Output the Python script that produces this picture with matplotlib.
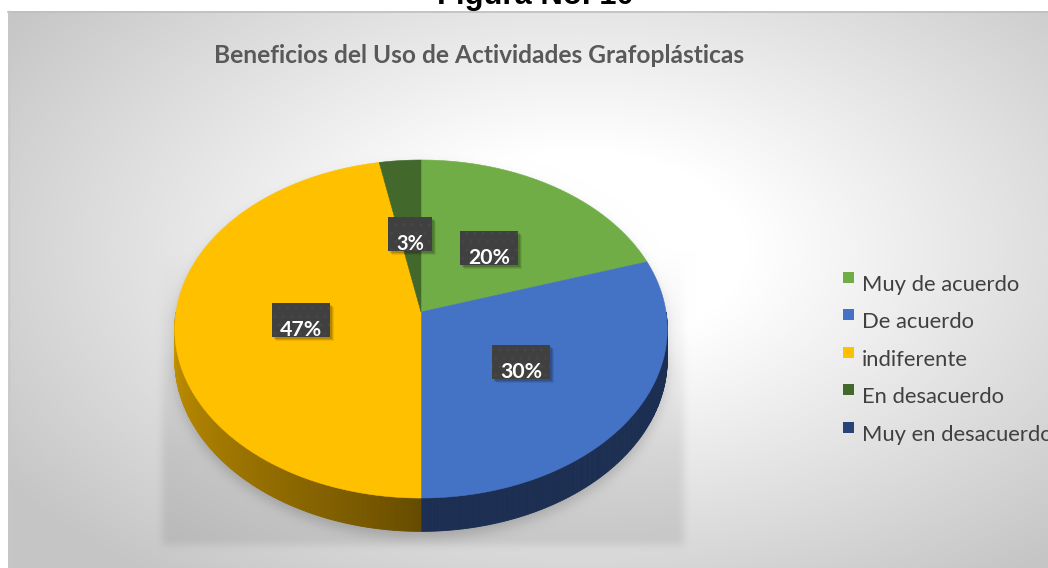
import numpy as np
import matplotlib
matplotlib.use("Agg")
import matplotlib.pyplot as plt
from matplotlib.patches import Rectangle, Polygon
from matplotlib.path import Path

# ---------------- data ----------------
categories = ["Muy de acuerdo", "De acuerdo", "indiferente", "En desacuerdo", "Muy en desacuerdo"]
values = [20, 30, 47, 3, 0]
pct_labels = ["20%", "30%", "47%", "3%", ""]
top_colors = ["#70ad47", "#4472c4", "#ffc000", "#43682b", "#264478"]
side_colors_light = ["#4a7a2c", "#1c2f52", "#c89400", "#2c451c", "#172a4a"]
side_colors_dark = ["#35571f", "#1a2b4c", "#644a00", "#1f3214", "#14233f"]
title = "Beneficios del Uso de Actividades Grafoplásticas"
caption = "Figura No. 10"

W, H = 1048, 568
fig = plt.figure(figsize=(W / 100, H / 100), dpi=100)
ax = fig.add_axes([0, 0, 1, 1])
ax.set_xlim(0, W)
ax.set_ylim(H, 0)
ax.axis("off")

# ---------------- pie geometry (perspective) ----------------
CX, CY = 421.0, 312.0
R, RY, K = 245.0, 167.3, 0.1006
DEPTH = 30.0


def proj(theta_deg, f=1.0, depth=0.0):
    t = np.radians(theta_deg)
    u = f * np.sin(t)
    v = -f * np.cos(t)
    den = 1 - K * v
    x = CX + R * u / den
    y = CY + RY * v / den + depth / den
    return x, y


# ---------------- background ----------------
yy, xx = np.mgrid[0:H, 0:W] + 0.5
d = np.sqrt(((xx - 580) / 560) ** 2 + ((yy - 250) / 330) ** 2)
bg = 255 - 58 * np.clip((d - 0.3) / 0.95, 0, 1)
bg = bg / 255.0


def blur(a, s):
    r = int(3 * s)
    k = np.exp(-0.5 * (np.arange(-r, r + 1) / s) ** 2)
    k /= k.sum()
    a = np.apply_along_axis(lambda m: np.convolve(m, k, mode="same"), 0, a)
    a = np.apply_along_axis(lambda m: np.convolve(m, k, mode="same"), 1, a)
    return a


pts = np.column_stack([xx.ravel(), yy.ravel()])
# broad soft shadow region behind the pie
rect = ((xx > 162) & (xx < 684) & (yy > 250) & (yy < 545)).astype(float)
rect = blur(rect, 4)
ramp = np.clip((yy - 250) / 200.0, 0, 1)
shadow = rect * ramp * 0.09
# contact shadow following the pie outline
th = np.linspace(0, 360, 361)
tx, ty = proj(th)
bx, by = proj(th, depth=DEPTH)
outline_x = np.concatenate([tx[th <= 90], bx[(th >= 90) & (th <= 270)], tx[th >= 270]])
outline_y = np.concatenate([ty[th <= 90], by[(th >= 90) & (th <= 270)], ty[th >= 270]])
sil = Path(np.column_stack([outline_x, outline_y + 6])).contains_points(pts).reshape(H, W).astype(float)
sil = blur(sil, 6) * 0.16
shadow = np.clip(shadow + sil, 0, 0.3)
bg = bg * (1 - shadow)
bg[(xx < 8) | (yy < 11)] = 1.0
img = np.dstack([bg, bg, bg])
ax.imshow(img, extent=(0, W, H, 0), interpolation="bilinear", zorder=0)
ax.plot([8, W], [11.5, 11.5], color="#bfbfbf", lw=1.2, zorder=1)
ax.plot([8.5, 8.5], [11, H], color="#c8c8c8", lw=1.0, zorder=1)

# ---------------- slices ----------------
total = float(sum(values))
starts = np.concatenate([[0], np.cumsum(values)[:-1]]) / total * 360
ends = np.cumsum(values) / total * 360


def mix(c1, c2, t):
    a = np.array(matplotlib.colors.to_rgb(c1))
    b = np.array(matplotlib.colors.to_rgb(c2))
    return tuple(a * (1 - t) + b * t)


# sides (front half, theta in [90, 270])
for i in range(len(values)):
    a0, a1 = max(starts[i], 90), min(ends[i], 270)
    if a1 <= a0:
        continue
    n = int((a1 - a0) * 2) + 2
    ts = np.linspace(a0, a1, n)
    for j in range(n - 1):
        t0, t1 = ts[j], ts[j + 1]
        x0, y0 = proj(t0)
        x1, y1 = proj(t1)
        x2, y2 = proj(t1, depth=DEPTH)
        x3, y3 = proj(t0, depth=DEPTH)
        tm = 0.5 * (t0 + t1)
        if i == 2:
            g = np.clip((tm - 180) / 90.0, 0, 1) ** 0.8
            col = mix(side_colors_dark[i], side_colors_light[i], g)
        else:
            col = side_colors_light[i]
        ax.add_patch(Polygon([[x0, y0], [x1, y1], [x2, y2], [x3, y3]], closed=True,
                             facecolor=col, edgecolor=col, lw=0.6, zorder=2))

# top faces
for i in range(len(values)):
    if values[i] <= 0:
        continue
    ts = np.linspace(starts[i], ends[i], max(int((ends[i] - starts[i]) * 2), 4))
    x, y = proj(ts)
    xs = np.concatenate([[CX], x])
    ys = np.concatenate([[CY], y])
    ax.fill(xs, ys, facecolor=top_colors[i], edgecolor=top_colors[i], lw=0.4, zorder=3)

# ---------------- text helpers ----------------
renderer = fig.canvas.get_renderer()


def fit(t, target):
    w = t.get_window_extent(renderer).width
    t.set_fontsize(t.get_fontsize() * target / w)


# data labels
for i in range(len(values)):
    if values[i] <= 0:
        continue
    mid = 0.5 * (starts[i] + ends[i])
    bxc, byc = proj(mid, f=0.49)
    txt = ax.text(bxc, byc + 16, pct_labels[i], color="white", fontsize=15,
                  fontweight="bold", family="Lato", ha="center", va="baseline", zorder=7)
    fit(txt, 14.0 * len(pct_labels[i]))
    tw = txt.get_window_extent(renderer).width
    bw = tw + 16
    bh = 34
    for s, al in [(4, 0.08), (3, 0.10), (2, 0.14)]:
        ax.add_patch(Rectangle((bxc - bw / 2 + s, byc - bh / 2 + s), bw, bh,
                               facecolor="black", alpha=al, lw=0, zorder=5))
    ax.add_patch(Rectangle((bxc - bw / 2, byc - bh / 2), bw, bh, facecolor="#404040",
                           edgecolor="#474747", hatch="..", lw=0, zorder=6))

# title
tt = ax.text(479, 63, title, color="#595959", fontsize=16, fontweight="bold",
             family="Lato", ha="center", va="baseline", zorder=8)
fit(tt, 532)

# caption (cut off at the top, as in the source)
ct = ax.text(535, 4, caption, color="black", fontsize=22, fontweight="bold",
             family="Liberation Sans", ha="center", va="baseline", zorder=8)
fit(ct, 196)

# legend
leg_y = [291, 328, 366, 403, 441]
fs = 15
for i, cat in enumerate(categories):
    ax.add_patch(Rectangle((843, leg_y[i] - 19), 11, 10.5, facecolor=top_colors[i],
                           lw=0, zorder=8))
    lt = ax.text(862, leg_y[i], cat, color="#404040", fontsize=fs, family="Lato",
                 ha="left", va="baseline", zorder=8)
    if i == 0:
        fit(lt, 158)
        fs = lt.get_fontsize()
    else:
        lt.set_fontsize(fs)

fig.savefig("out.png", dpi=100)
